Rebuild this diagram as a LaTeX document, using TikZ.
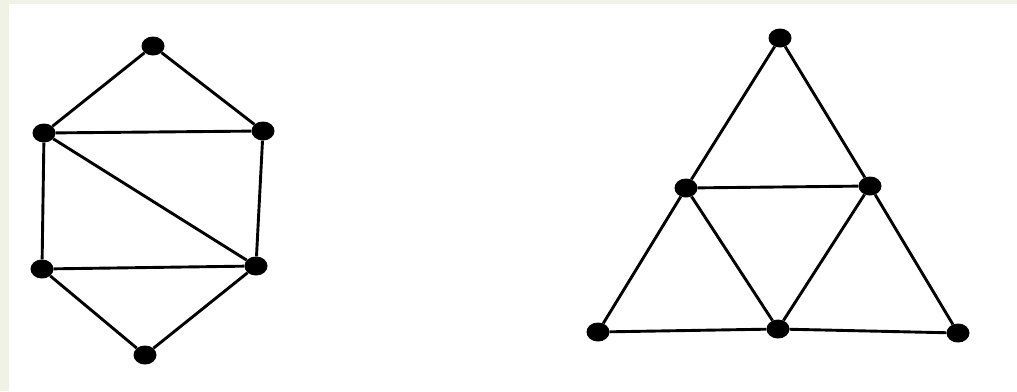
\documentclass[tikz,border=0pt]{standalone}
\usetikzlibrary{shapes.geometric}
\definecolor{paleback}{RGB}{239,242,228}
\begin{document}
\begin{tikzpicture}[x=1pt,y=-1pt,
  vtx/.style={ellipse,fill=black,minimum width=23pt,minimum height=19pt,inner sep=0pt},
  edge/.style={line width=2.9pt,black}]
\useasboundingbox (0,0) rectangle (1017,391);
\fill[paleback] (0,0) rectangle (1017,391);
\fill[white] (9,4) rectangle (1017,391);
% left graph
\node[vtx] (t) at (153,46) {};
\node[vtx] (ul) at (44,133) {};
\node[vtx] (ur) at (263,131) {};
\node[vtx] (ll) at (42,269) {};
\node[vtx] (lr) at (256,266) {};
\node[vtx] (b) at (145,355) {};
\draw[edge] (t)--(ul) (t)--(ur) (ul)--(ur) (ul)--(ll) (ur)--(lr) (ul)--(lr) (ll)--(lr) (ll)--(b) (lr)--(b);
% right graph
\node[vtx] (rt) at (780,38) {};
\node[vtx] (ml) at (686,188) {};
\node[vtx] (mr) at (870,186) {};
\node[vtx] (bl) at (598,332) {};
\node[vtx] (bm) at (778,329) {};
\node[vtx] (br) at (958,333) {};
\draw[edge] (rt)--(ml) (rt)--(mr) (ml)--(mr) (ml)--(bl) (ml)--(bm) (mr)--(bm) (mr)--(br) (bl)--(bm) (bm)--(br);
\end{tikzpicture}
\end{document}
